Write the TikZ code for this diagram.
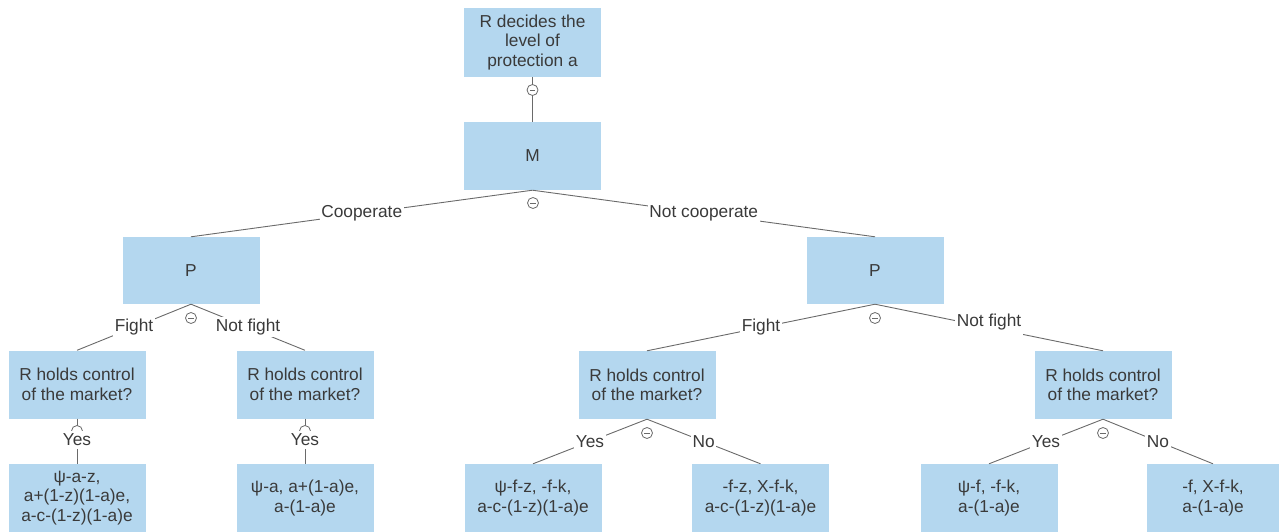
\documentclass[tikz,border=0pt]{standalone}
\usepackage{fontspec}
\setmainfont{Liberation Sans}
\definecolor{boxfill}{HTML}{B4D7EF}
\definecolor{linec}{HTML}{6A6A6A}
\definecolor{textc}{HTML}{3A3A3A}
\begin{document}
\begin{tikzpicture}[x=1pt,y=-1pt,
  every node/.style={font=\fontsize{17.3}{19.5}\selectfont, text=textc},
  box/.style={rectangle, fill=boxfill, minimum width=137pt, minimum height=68pt, align=center, inner sep=2pt},
  conn/.style={draw=linec, line width=0.9pt},
  lab/.style={fill=white, inner xsep=1.5pt, inner ysep=2pt},
  circ/.style={circle, draw=linec, line width=0.8pt, fill=white, minimum size=11pt, inner sep=0pt,
    path picture={\draw[linec, line width=0.8pt] ([xshift=2.8pt]path picture bounding box.west) -- ([xshift=-2.8pt]path picture bounding box.east);}}
]
\useasboundingbox (0,0) rectangle (1282,532);
% nodes
\node[box, minimum height=69pt] (top) at (532.5,42.5) {R decides the\\level of\\protection a};
\node[box] (M) at (532.5,156) {M};
\node[box, minimum height=67pt] (PL) at (191,270.5) {P};
\node[box, minimum height=67pt] (PR) at (875,270.5) {P};
\node[box] (R1) at (77,384.5) {R holds control\\of the market?};
\node[box] (R2) at (305,384.5) {R holds control\\of the market?};
\node[box] (R3) at (647,385) {R holds control\\of the market?};
\node[box] (R4) at (1103,385) {R holds control\\of the market?};
\node[box] (L1) at (77,498) {ψ-a-z,\\a+(1-z)(1-a)e,\\a-c-(1-z)(1-a)e};
\node[box] (L2) at (305,498) {ψ-a, a+(1-a)e,\\a-(1-a)e};
\node[box] (L3) at (533,498) {ψ-f-z, -f-k,\\a-c-(1-z)(1-a)e};
\node[box] (L4) at (760.5,498) {-f-z, X-f-k,\\a-c-(1-z)(1-a)e};
\node[box] (L5) at (989,498) {ψ-f, -f-k,\\a-(1-a)e};
\node[box, minimum width=132pt] (L6) at (1213,498) {-f, X-f-k,\\a-(1-a)e};
% connectors
\draw[conn] (top.south) -- (M.north);
\node[circ] (c0) at (532.5,90) {};
\draw[conn] (M.south) -- node[lab] (lc) {Cooperate} (PL.north);
\draw[conn] (M.south) -- node[lab] (lnc) {Not cooperate} (PR.north);
\node[circ] (c1) at (533,203) {};
\draw[conn] (PL.south) -- node[lab] (lf1) {Fight} (R1.north);
\draw[conn] (PL.south) -- node[lab] (lnf1) {Not fight} (R2.north);
\node[circ] (c2) at (191,318) {};
\draw[conn] (PR.south) -- node[lab] (lf2) {Fight} (R3.north);
\draw[conn] (PR.south) -- node[lab, yshift=5pt, inner ysep=5pt] (lnf2) {Not fight} (R4.north);
\node[circ] (c3) at (875,318) {};
% left R boxes
\draw[conn] (R1.south) -- (L1.north);
\node[circ] (c4) at (77,431) {};
\node[lab, inner ysep=3pt] (y1) at (77,440) {Yes};
\draw[conn] (R2.south) -- (L2.north);
\node[circ] (c5) at (305,431) {};
\node[lab, inner ysep=3pt] (y2) at (305,440) {Yes};
% right R boxes
\draw[conn] (R3.south) -- node[lab] (y3) {Yes} (L3.north);
\draw[conn] (R3.south) -- node[lab] (n3) {No} (L4.north);
\node[circ] (c6) at (647,433) {};
\draw[conn] (R4.south) -- node[lab] (y4) {Yes} (L5.north);
\draw[conn] (R4.south) -- node[lab] (n4) {No} (L6.north);
\node[circ] (c7) at (1103,433) {};
\end{tikzpicture}
\end{document}
